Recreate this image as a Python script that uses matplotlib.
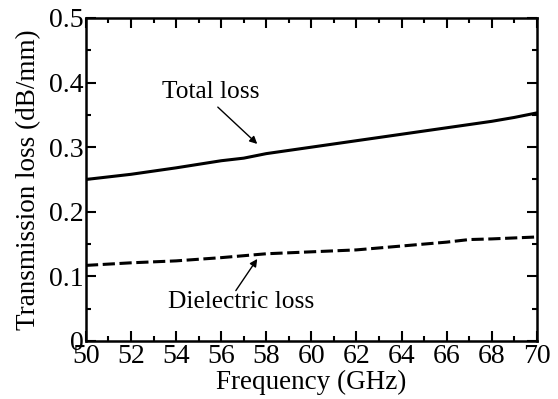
import matplotlib.pyplot as plt
from matplotlib.ticker import MultipleLocator, FixedLocator

plt.rcParams['font.family'] = ['Liberation Serif', 'DejaVu Serif']

# Values
freq_total = [50, 52, 54, 56, 57, 58, 60, 62, 64, 66, 68, 69, 70]
total_loss = [0.250, 0.258, 0.268, 0.279, 0.283, 0.290, 0.300, 0.310, 0.320, 0.330, 0.340, 0.346, 0.353]

freq_diel = [50, 52, 54, 56, 58, 60, 62, 64, 66, 67, 68, 70]
diel_loss = [0.117, 0.121, 0.124, 0.129, 0.135, 0.138, 0.141, 0.147, 0.153, 0.157, 0.158, 0.161]

x_ticks = list(range(50, 71, 2))
y_ticks = [0, 0.1, 0.2, 0.3, 0.4, 0.5]
y_tick_labels = ["0", "0.1", "0.2", "0.3", "0.4", "0.5"]

fig = plt.figure(figsize=(5.58, 3.99), dpi=100)
ax = fig.add_axes([0.154, 0.1454, 0.808, 0.8096])

ax.plot(freq_total, total_loss, color="black", lw=2.2, linestyle="-")
ax.plot(freq_diel, diel_loss, color="black", lw=2.2, linestyle=(0, (4, 1.5)))

ax.set_xlim(50, 70)
ax.set_ylim(0, 0.5)
ax.xaxis.set_major_locator(FixedLocator(x_ticks))
ax.xaxis.set_minor_locator(MultipleLocator(1))
ax.yaxis.set_major_locator(FixedLocator(y_ticks))
ax.yaxis.set_minor_locator(MultipleLocator(0.05))
ax.set_yticklabels(y_tick_labels)

ax.tick_params(which="both", direction="in", top=True, right=True, width=1.5,
               labelsize=20)
ax.tick_params(axis="x", pad=2.5)
ax.tick_params(axis="y", pad=1.5)
ax.tick_params(which="major", length=7)
ax.tick_params(which="minor", length=3.5)
for sp in ax.spines.values():
    sp.set_linewidth(1.8)

ax.set_xlabel("Frequency (GHz)", fontsize=19.5, labelpad=0)
ax.set_ylabel("Transmission loss (dB/mm)", fontsize=19.5, labelpad=6)

arrow = dict(arrowstyle="-|>", color="black", lw=1, shrinkA=0, shrinkB=0, mutation_scale=11)
ax.text(55.55, 0.385, "Total loss", fontsize=18.3, ha="center", va="center")
ax.annotate("", xy=(57.6, 0.305), xytext=(55.85, 0.362), arrowprops=arrow)
ax.text(56.9, 0.060, "Dielectric loss", fontsize=18.3, ha="center", va="center")
ax.annotate("", xy=(57.6, 0.127), xytext=(56.65, 0.078), arrowprops=arrow)

fig.savefig("out.png", dpi=100)
